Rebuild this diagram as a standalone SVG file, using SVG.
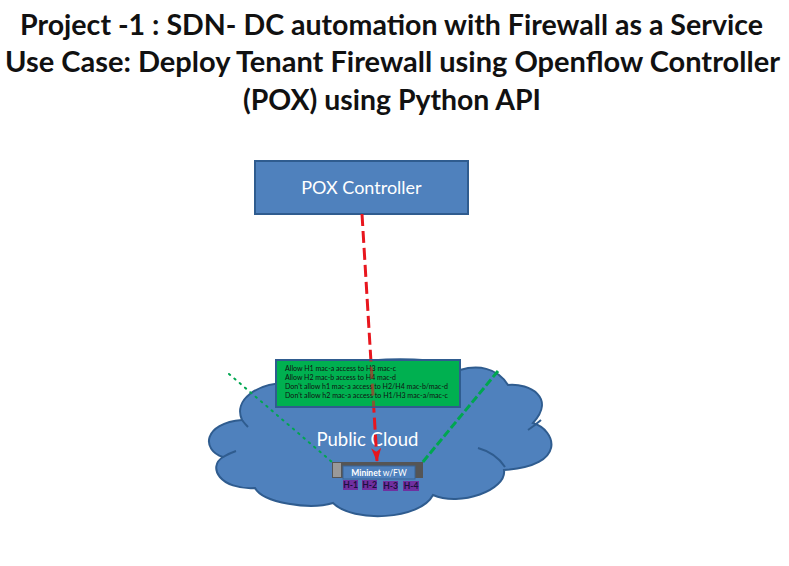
<svg xmlns="http://www.w3.org/2000/svg" width="789" height="566" viewBox="0 0 789 566">
<style>
text{font-family:Lato,"Liberation Sans",sans-serif}
.t{font-size:28.5px;font-weight:700;fill:#111}
.r{font-size:7px;fill:#111}
.h{font-size:8.500px;font-weight:700;fill:#1a1040;text-anchor:middle}
.hb{fill:#7030a0}
.crease{fill:none;stroke:#2f5c8f;stroke-width:2}
.red{fill:none;stroke:#e8161e;stroke-width:3;stroke-dasharray:12 5}
</style>
<defs>
<marker id="ah" viewBox="0 0 14 10" refX="13" refY="5" markerWidth="14" markerHeight="10" orient="auto" markerUnits="userSpaceOnUse"><path d="M0 0L14 5L0 10L4 5z" fill="#e8161e"/></marker>
<clipPath id="box"><rect x="276" y="360" width="184" height="47"/></clipPath>
</defs>
<rect width="789" height="566" fill="#fff"/>
<g id="title">
<text class="t" x="20" y="35" textLength="743" lengthAdjust="spacingAndGlyphs">Project -1 : SDN- DC automation with Firewall as a Service</text>
<text class="t" x="5" y="72" textLength="775" lengthAdjust="spacingAndGlyphs">Use Case: Deploy Tenant Firewall using Openflow Controller</text>
<text class="t" x="243" y="110" textLength="298" lengthAdjust="spacingAndGlyphs">(POX) using Python API</text>
</g>
<g id="cloud">
<path d="M223 457C201 450 203 423 242 420C233 400 257 383 287 383C300 360 440 350 460 370C477 365 497 367 508 385C530 383 556 398 533 423C556 430 568 466 504 470C507 490 460 507 433 495C420 520 353 523 333 503C310 510 263 503 255 488C220 490 207 467 223 457Z" fill="#4f81bd" stroke="#2f5c8f" stroke-width="2"/>
<path class="crease" d="M223 457Q230 453 236 451M242 420Q245 424 248 427M528 430Q534 426 541 420M478 448Q496 453 505 467"/>
<text x="367.500" y="446" font-size="18.500" fill="#fff" text-anchor="middle">Public Cloud</text>
</g>
<g id="pox-controller">
<rect x="255" y="161" width="213" height="53" fill="#4f81bd" stroke="#2f5c8f" stroke-width="2"/>
<text x="361.500" y="194" font-size="18" fill="#fff" text-anchor="middle">POX Controller</text>
</g>
<g id="connectors">
<path d="M229 374L332 462" fill="none" stroke="#00a650" stroke-width="2" stroke-dasharray="1.500 5.500" stroke-linecap="round"/>
<path d="M498 371L422 463" fill="none" stroke="#00a650" stroke-width="3" stroke-dasharray="8 3"/>
<path class="red" d="M362 214L377 461" marker-end="url(#ah)"/>
</g>
<g id="rules">
<rect x="276" y="360" width="184" height="47" fill="#00b050" stroke="#2f5c8f" stroke-width="2"/>
<text class="r" x="285" y="371" textLength="111" lengthAdjust="spacingAndGlyphs">Allow H1 mac-a access to H3 mac-c</text>
<text class="r" x="285" y="380" textLength="111" lengthAdjust="spacingAndGlyphs">Allow H2 mac-b access to H4 mac-d</text>
<text class="r" x="285" y="389" textLength="163" lengthAdjust="spacingAndGlyphs">Don't allow h1 mac-a access to H2/H4 mac-b/mac-d</text>
<text class="r" x="285" y="398" textLength="163" lengthAdjust="spacingAndGlyphs">Don't allow h2 mac-a access to H1/H3 mac-a/mac-c</text>
<path class="red" d="M362 214L377 461" clip-path="url(#box)" opacity=".55"/>
</g>
<g id="mininet">
<rect x="332" y="462" width="91" height="16" fill="#555"/>
<rect x="333" y="463" width="8" height="14" fill="#999"/>
<rect x="343" y="466" width="72" height="13" fill="#4f81bd" stroke="#3a6595"/>
<text x="379" y="476" font-size="8.500" fill="#fff" text-anchor="middle"><tspan font-weight="700">Mininet</tspan> w/FW</text>
</g>
<g id="h-1"><rect class="hb" x="343" y="480" width="15" height="10"/><text class="h" x="350.500" y="488">H-1</text></g>
<g id="h-2"><rect class="hb" x="362" y="480" width="15" height="10"/><text class="h" x="369.500" y="488">H-2</text></g>
<g id="h-3"><rect class="hb" x="383" y="481" width="15" height="10"/><text class="h" x="390.500" y="489">H-3</text></g>
<g id="h-4"><rect class="hb" x="403" y="481" width="16" height="10"/><text class="h" x="411" y="489">H-4</text></g>
</svg>
